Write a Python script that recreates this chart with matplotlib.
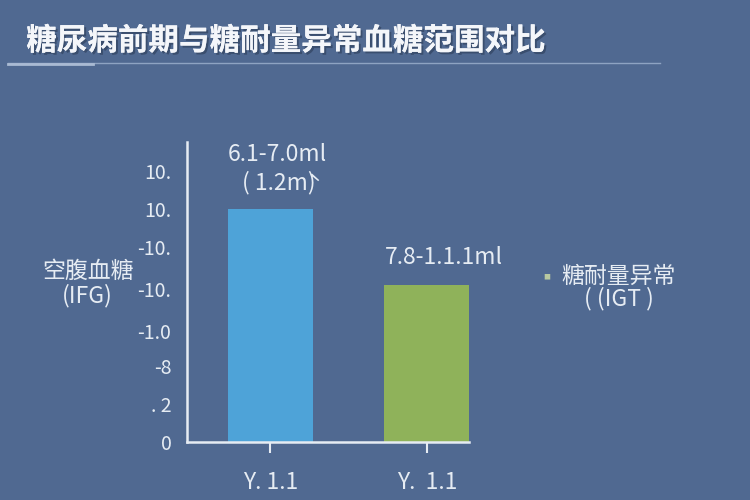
import matplotlib
matplotlib.use("Agg")
import matplotlib.pyplot as plt
import matplotlib.patheffects as pe

plt.rcParams['font.family'] = ['Noto Sans CJK SC', 'DejaVu Sans']

title = "糖尿病前期与糖耐量异常血糖范围对比"
categories = ["Y. 1.1", "Y.  1.1"]
values = [6.1, 4.1]
bar_label_lines = [["6.1-7.0ml", "( 1.2m̀)"], ["7.8-1.1.1ml"]]
colors = ["#4ea3d8", "#8fb25a"]
ytick_values = [0, 1, 2, 2.9, 4, 5.1, 6.1, 7.1]
ytick_labels = ["0", ". 2", "-8", "-1.0", "-10.", "-10.", "10.", "10."]
ylabel = "空腹血糖\n(IFG)"
legend_label = "糖耐量异常\n( (IGT )"

bg = "#506991"
fg = "#e6ecf3"

fig = plt.figure(figsize=(7.5, 5), dpi=100, facecolor=bg)
ax = fig.add_axes([0.249, 0.116, 0.376, 0.600])
ax.set_facecolor(bg)

x = list(range(len(categories)))
bars = ax.bar(x, values, width=0.543, color=colors, zorder=2)
ax.set_xlim(-0.534, 1.268)
ax.set_ylim(0, 7.85)

ax.set_xticks(x)
ax.set_xticklabels(categories, fontsize=16.5, color=fg)
ax.tick_params(axis='x', length=8, width=1.5, color=fg, pad=13)
ax.set_yticks(ytick_values)
ax.set_yticklabels(ytick_labels, fontsize=14, color=fg)
ax.tick_params(axis='y', length=0, pad=11)

for s in ['top', 'right']:
    ax.spines[s].set_visible(False)
for s in ['left', 'bottom']:
    ax.spines[s].set_color(fg)
    ax.spines[s].set_linewidth(1.8)

# bar annotations
ax.annotate(bar_label_lines[0][0], xy=(x[0], values[0]), xytext=(5, 39),
            textcoords='offset points', ha='center', va='center',
            fontsize=16.5, color=fg)
ax.annotate(bar_label_lines[0][1], xy=(x[0], values[0]), xytext=(6, 19),
            textcoords='offset points', ha='center', va='center',
            fontsize=16.5, color=fg)
ax.annotate(bar_label_lines[1][0], xy=(x[1], values[1]), xytext=(12, 20),
            textcoords='offset points', ha='center', va='center',
            fontsize=16.5, color=fg)

# y label
fig.text(0.117, 0.432, ylabel, ha='center', va='center', fontsize=16.5,
         color=fg, linespacing=1.05)

# legend-like text
fig.text(0.729, 0.446, "■", ha='center', va='center', fontsize=5, color="#b8c8a0")
fig.text(0.825, 0.425, legend_label, ha='center', va='center', fontsize=16.5,
         color=fg, linespacing=0.92)

# title
fig.text(0.035, 0.918, title, ha='left', va='center', fontsize=22,
         fontweight='bold', color="#f4f6fa",
         path_effects=[pe.withSimplePatchShadow(offset=(1.5, -1.5),
                                                shadow_rgbFace="#2c3c58", alpha=0.6),
                       pe.Normal()])
fig.add_artist(plt.Line2D([0.011, 0.88], [0.874, 0.874], color="#8ea3c2",
                          linewidth=1.0, transform=fig.transFigure))
fig.add_artist(plt.Line2D([0.011, 0.124], [0.873, 0.873], color="#a9bad3",
                          linewidth=2.0, transform=fig.transFigure))

fig.savefig("out.png", dpi=100, facecolor=bg)
